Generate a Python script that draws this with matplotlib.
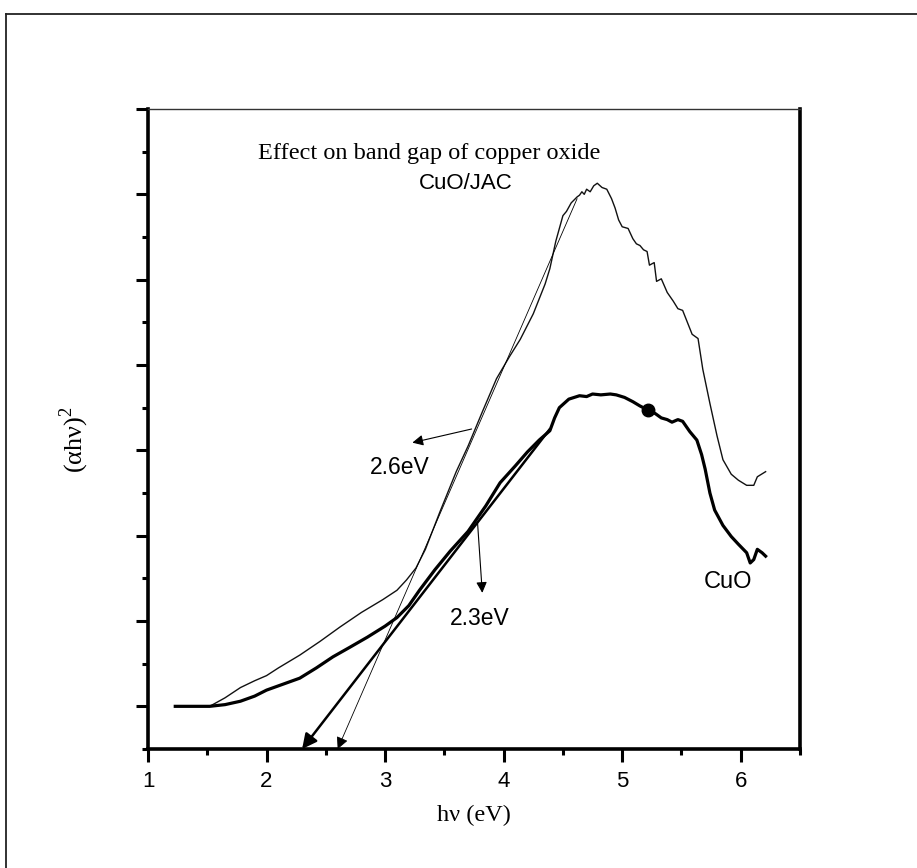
import matplotlib
matplotlib.use("Agg")
import matplotlib.pyplot as plt
from matplotlib.lines import Line2D
from matplotlib.ticker import MultipleLocator, NullFormatter

plt.rcParams["font.family"] = ["Liberation Sans", "DejaVu Sans"]
plt.rcParams["mathtext.fontset"] = "custom"
plt.rcParams["mathtext.rm"] = "Liberation Serif"

# (alpha h nu)^2 vs photon energy, CuO/JAC composite (thin line)
jac_x = [1.23, 1.52, 1.65, 1.78, 1.90, 2.00, 2.10, 2.28, 2.45, 2.62, 2.80, 2.98,
         3.10, 3.18, 3.26, 3.34, 3.46, 3.60, 3.70, 3.82, 3.94, 4.05, 4.14, 4.25,
         4.35, 4.39, 4.44, 4.50, 4.53, 4.57, 4.62, 4.64, 4.66, 4.68, 4.70, 4.73,
         4.76, 4.79, 4.83, 4.87, 4.91, 4.94, 4.97, 5.00, 5.05, 5.09, 5.12, 5.15,
         5.18, 5.21, 5.23, 5.27, 5.29, 5.33, 5.38, 5.43, 5.47, 5.51, 5.55, 5.59,
         5.64, 5.68, 5.74, 5.80, 5.85, 5.92, 5.98, 6.05, 6.11, 6.14, 6.21]
jac_y = [0.00, 0.00, 0.10, 0.22, 0.30, 0.36, 0.45, 0.60, 0.76, 0.93, 1.10, 1.25,
         1.36, 1.48, 1.62, 1.84, 2.27, 2.75, 3.05, 3.45, 3.84, 4.10, 4.30, 4.60,
         4.95, 5.13, 5.45, 5.75, 5.80, 5.90, 5.97, 5.99, 6.03, 6.00, 6.06, 6.03,
         6.10, 6.13, 6.08, 6.06, 5.95, 5.84, 5.70, 5.62, 5.60, 5.48, 5.42, 5.40,
         5.35, 5.33, 5.17, 5.20, 4.98, 5.01, 4.85, 4.75, 4.66, 4.64, 4.50, 4.36,
         4.31, 3.95, 3.55, 3.17, 2.89, 2.72, 2.65, 2.59, 2.59, 2.69, 2.75]

# pure CuO (thick line)
cuo_x = [1.23, 1.52, 1.65, 1.78, 1.90, 2.00, 2.14, 2.28, 2.42, 2.56, 2.70, 2.85,
         3.00, 3.10, 3.20, 3.29, 3.42, 3.55, 3.70, 3.85, 3.97, 4.10, 4.20, 4.30,
         4.39, 4.43, 4.47, 4.55, 4.64, 4.70, 4.75, 4.82, 4.90, 4.95, 5.02, 5.09,
         5.15, 5.22, 5.28, 5.33, 5.38, 5.42, 5.47, 5.51, 5.57, 5.63, 5.67, 5.70,
         5.74, 5.78, 5.85, 5.92, 5.98, 6.05, 6.08, 6.11, 6.14, 6.18, 6.21]
cuo_y = [0.00, 0.00, 0.02, 0.06, 0.12, 0.19, 0.26, 0.33, 0.45, 0.58, 0.69, 0.81,
         0.94, 1.04, 1.18, 1.36, 1.60, 1.82, 2.05, 2.35, 2.62, 2.82, 2.98, 3.12,
         3.23, 3.38, 3.50, 3.60, 3.64, 3.63, 3.66, 3.65, 3.66, 3.65, 3.62, 3.57,
         3.52, 3.47, 3.43, 3.38, 3.36, 3.33, 3.36, 3.34, 3.22, 3.12, 2.95, 2.78,
         2.50, 2.30, 2.12, 1.99, 1.90, 1.80, 1.68, 1.72, 1.84, 1.80, 1.76]

# marked point on the CuO curve
dot_x, dot_y = 5.22, 3.47

# Tauc extrapolations: band gap (axis crossing) and upper end of the fit line
gaps = [2.6, 2.3]
fit_top_x = [4.62, 4.39]
fit_top_y = [5.95, 3.25]
fit_lw = [0.6, 1.8]
gap_labels = ["2.6eV", "2.3eV"]

YMIN, YMAX = -0.5, 7.0

fig = plt.figure(figsize=(9.17, 8.68), dpi=100)
ax = fig.add_axes([148 / 917, 1 - 749 / 868, 652 / 917, 640 / 868])

# page frame: only its top and left edges are on the canvas
frame_x0, frame_y1 = 5.5 / 917, 1 - 13.5 / 868
fig.add_artist(Line2D([frame_x0, 1.0], [frame_y1, frame_y1], transform=fig.transFigure,
                      color="#222222", lw=1.3))
fig.add_artist(Line2D([frame_x0, frame_x0], [0.0, frame_y1], transform=fig.transFigure,
                      color="#222222", lw=1.3))

ax.plot(jac_x, jac_y, color="#111111", lw=1.0)
ax.plot(cuo_x, cuo_y, color="black", lw=2.3)
ax.plot(dot_x, dot_y, "o", color="black", ms=9)

# tangent lines running down to the energy axis
for g, tx, ty, lw in zip(gaps, fit_top_x, fit_top_y, fit_lw):
    ax.annotate("", xy=(g, YMIN), xytext=(tx, ty),
                arrowprops=dict(arrowstyle="-|>", color="black", lw=lw,
                                mutation_scale=22 if lw > 1 else 18,
                                shrinkA=0, shrinkB=0))

# labels pointing at each fit
ax.annotate("", xy=(3.23, 3.09), xytext=(3.73, 3.25),
            arrowprops=dict(arrowstyle="-|>", color="black", lw=0.8,
                            mutation_scale=16, shrinkA=0, shrinkB=0))
ax.text(3.12, 2.8, gap_labels[0], fontsize=16.5, ha="center", va="center")
ax.annotate("", xy=(3.82, 1.33), xytext=(3.78, 2.15),
            arrowprops=dict(arrowstyle="-|>", color="black", lw=0.8,
                            mutation_scale=16, shrinkA=0, shrinkB=0))
ax.text(3.8, 1.03, gap_labels[1], fontsize=16.5, ha="center", va="center")

ax.text(3.68, 6.13, "CuO/JAC", fontsize=16, ha="center", va="center")
ax.text(5.89, 1.46, "CuO", fontsize=17, ha="center", va="center")
ax.text(1.93, 6.48, "Effect on band gap of copper oxide", fontsize=17.5,
        family="Liberation Serif", ha="left", va="center")

ax.set_xlim(1, 6.5)
ax.set_ylim(YMIN, YMAX)
ax.xaxis.set_major_locator(MultipleLocator(1))
ax.xaxis.set_minor_locator(MultipleLocator(0.5))
ax.yaxis.set_major_locator(MultipleLocator(1))
ax.yaxis.set_minor_locator(MultipleLocator(0.5))
ax.yaxis.set_major_formatter(NullFormatter())

ax.tick_params(which="major", direction="out", length=9, width=2.2, labelsize=16, pad=7)
ax.tick_params(which="minor", direction="out", length=4.5, width=2.2)
ax.tick_params(top=False, right=False)

for side in ["left", "bottom", "right"]:
    ax.spines[side].set_linewidth(2.6)
ax.spines["top"].set_linewidth(1.0)
ax.spines["top"].set_color("#333333")

ax.set_xlabel("hν (eV)", family="Liberation Serif", fontsize=17.5)
ax.set_ylabel("(αhν)$^2$", family="Liberation Serif", fontsize=19)
ax.xaxis.set_label_coords(0.5, -0.088)
ax.yaxis.set_label_coords(-0.088, 0.483)

fig.savefig("out.png", dpi=100)
